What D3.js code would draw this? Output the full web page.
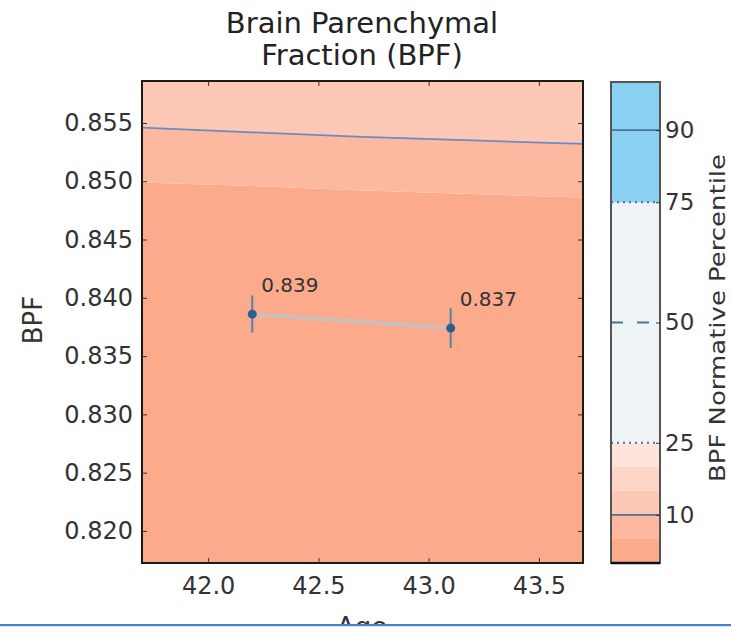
<!DOCTYPE html>
<html>
<head>
<meta charset="utf-8">
<script src="https://cdn.jsdelivr.net/npm/d3@7"></script>
<style>
  html, body { margin: 0; padding: 0; background: #fff; }
  svg { display: block; font-family: "DejaVu Sans", sans-serif; }
</style>
</head>
<body>
<svg id="chart" width="731" height="627"></svg>
<script>
// ---- data ----
const titleLines = ["Brain Parenchymal", "Fraction (BPF)"];
const xTicks = [42.0, 42.5, 43.0, 43.5];
const yTicks = [0.820, 0.825, 0.830, 0.835, 0.840, 0.845, 0.850, 0.855];
const curveAges = [41.7, 42.2, 42.7, 43.2, 43.7];
const p5Curve  = [0.8499, 0.8496, 0.8492, 0.8489, 0.8486];
const p10Curve = [0.8546, 0.8542, 0.8538, 0.8535, 0.8532];
const pointAges = [42.2, 43.1];
const pointValues = [0.8386, 0.8374];
const pointErrors = [0.0016, 0.0017];
const pointLabels = ["0.839", "0.837"];
const cbarEdges = [0, 5, 10, 15, 20, 25, 75, 90, 100];
const cbarColors = ["#fcaa8c", "#fdb99f", "#fdc8b5", "#fdd6c8", "#fee4da", "#eef3f5", "#8ad0f3", "#8ad0f3"];
const cbarTicks = [10, 25, 50, 75, 90];
const cbarLineStyles = ["solid", "dotted", "dashed", "dotted", "solid"];

// ---- layout ----
const svg = d3.select("#chart");
const x = d3.scaleLinear().domain([41.7, 43.7]).range([142, 583]);
const y = d3.scaleLinear().domain([0.81725, 0.8586]).range([563, 81]);
const cy = d3.scaleLinear().domain([0, 100]).range([563, 82]);
const cbX0 = 611, cbX1 = 660;
const textColor = "#333";

svg.append("defs").append("clipPath").attr("id", "plotclip")
  .append("rect").attr("x", 142).attr("y", 81).attr("width", 441).attr("height", 482);

const plot = svg.append("g").attr("clip-path", "url(#plotclip)");
const curveData = curveAges.map((a, i) => ({ a, p5: p5Curve[i], p10: p10Curve[i] }));
const [yMin, yMax] = y.domain();

// percentile bands
plot.append("path").datum(curveData)
  .attr("fill", cbarColors[0])
  .attr("d", d3.area().x(d => x(d.a)).y0(y(yMin)).y1(d => y(d.p5)));
plot.append("path").datum(curveData)
  .attr("fill", cbarColors[1])
  .attr("d", d3.area().x(d => x(d.a)).y0(d => y(d.p5)).y1(d => y(d.p10)));
plot.append("path").datum(curveData)
  .attr("fill", cbarColors[2])
  .attr("d", d3.area().x(d => x(d.a)).y0(d => y(d.p10)).y1(y(yMax)));

// 10th percentile line
plot.append("path").datum(curveData)
  .attr("fill", "none").attr("stroke", "#6a8cc4").attr("stroke-width", 1.8)
  .attr("d", d3.line().x(d => x(d.a)).y(d => y(d.p10)));

// subject series
const pts = pointAges.map((a, i) => ({ a, v: pointValues[i], e: pointErrors[i], l: pointLabels[i] }));
plot.append("path").datum(pts)
  .attr("fill", "none").attr("stroke", "#c6c2c0").attr("stroke-opacity", 0.85).attr("stroke-width", 4)
  .attr("d", d3.line().x(d => x(d.a)).y(d => y(d.v)));
plot.selectAll(".err").data(pts).join("line")
  .attr("x1", d => x(d.a)).attr("x2", d => x(d.a))
  .attr("y1", d => y(d.v - d.e)).attr("y2", d => y(d.v + d.e))
  .attr("stroke", "#5584aa").attr("stroke-width", 2);
plot.selectAll(".pt").data(pts).join("circle")
  .attr("cx", d => x(d.a)).attr("cy", d => y(d.v)).attr("r", 4.5)
  .attr("fill", "#2b5f8c");
plot.selectAll(".lbl").data(pts).join("text")
  .attr("x", d => x(d.a) + 9).attr("y", d => y(d.v) - 22)
  .attr("font-size", 20).attr("fill", textColor).text(d => d.l);

// frame
svg.append("rect").attr("x", 142).attr("y", 81).attr("width", 441).attr("height", 482)
  .attr("fill", "none").attr("stroke", "#1a1a1a").attr("stroke-width", 2);

// axes (inward ticks on all four sides)
const tl = 5;
svg.append("g").attr("transform", "translate(0,563)")
  .call(d3.axisBottom(x).tickValues(xTicks).tickFormat(d3.format(".1f")).tickSizeInner(-tl).tickSizeOuter(0).tickPadding(14))
  .call(g => g.select(".domain").remove())
  .call(g => g.selectAll("line").attr("stroke", "#333"))
  .call(g => g.selectAll("text").attr("font-size", 24).attr("fill", textColor).attr("font-family", "DejaVu Sans"));
svg.append("g").attr("transform", "translate(0,81)")
  .call(d3.axisTop(x).tickValues(xTicks).tickFormat("").tickSizeInner(-tl).tickSizeOuter(0))
  .call(g => g.select(".domain").remove())
  .call(g => g.selectAll("line").attr("stroke", "#333"));
svg.append("g").attr("transform", "translate(142,0)")
  .call(d3.axisLeft(y).tickValues(yTicks).tickFormat(d3.format(".3f")).tickSizeInner(-tl).tickSizeOuter(0).tickPadding(9))
  .call(g => g.select(".domain").remove())
  .call(g => g.selectAll("line").attr("stroke", "#333"))
  .call(g => g.selectAll("text").attr("font-size", 24).attr("fill", textColor).attr("font-family", "DejaVu Sans"));
svg.append("g").attr("transform", "translate(583,0)")
  .call(d3.axisRight(y).tickValues(yTicks).tickFormat("").tickSizeInner(-tl).tickSizeOuter(0))
  .call(g => g.select(".domain").remove())
  .call(g => g.selectAll("line").attr("stroke", "#333"));

// axis titles
svg.append("text").attr("transform", "translate(42,320) rotate(-90)")
  .attr("text-anchor", "middle").attr("font-size", 26).attr("fill", textColor).text("BPF");
svg.append("text").attr("x", 362).attr("y", 636)
  .attr("text-anchor", "middle").attr("font-size", 26).attr("fill", textColor).text("Age");

// title
svg.selectAll(".title").data(titleLines).join("text")
  .attr("x", 362).attr("y", (d, i) => 33 + i * 32)
  .attr("text-anchor", "middle").attr("font-size", 29).attr("fill", "#222").text(d => d);

// colorbar
const cb = svg.append("g");
const bands = cbarColors.map((c, i) => ({ lo: cbarEdges[i], hi: cbarEdges[i + 1], c }));
cb.selectAll("rect.band").data(bands).join("rect")
  .attr("x", cbX0).attr("width", cbX1 - cbX0)
  .attr("y", d => cy(d.hi)).attr("height", d => cy(d.lo) - cy(d.hi))
  .attr("fill", d => d.c);
const dash = { solid: null, dotted: "2,4", dashed: "12,14" };
cb.selectAll("line.pl").data(cbarTicks).join("line")
  .attr("x1", cbX0).attr("x2", cbX1)
  .attr("y1", d => cy(d)).attr("y2", d => cy(d))
  .attr("stroke", "#4c7294").attr("stroke-width", 1.8)
  .attr("stroke-dasharray", (d, i) => dash[cbarLineStyles[i]]);
cb.append("rect").attr("x", cbX0).attr("y", 82).attr("width", cbX1 - cbX0).attr("height", 481)
  .attr("fill", "none").attr("stroke", "#555").attr("stroke-width", 2);
cb.append("line").attr("x1", cbX0).attr("x2", cbX1).attr("y1", 563).attr("y2", 563)
  .attr("stroke", "#111").attr("stroke-width", 2.5);
svg.append("g").attr("transform", `translate(${cbX1},0)`)
  .call(d3.axisRight(cy).tickValues(cbarTicks).tickFormat(d3.format("d")).tickSizeInner(-4).tickSizeOuter(0).tickPadding(5))
  .call(g => g.select(".domain").remove())
  .call(g => g.selectAll("line").attr("stroke", "#333"))
  .call(g => g.selectAll("text").attr("font-size", 23).attr("fill", textColor).attr("font-family", "DejaVu Sans"));
svg.append("text").attr("transform", "translate(725,318) rotate(-90)")
  .attr("text-anchor", "middle").attr("font-size", 21)
  .attr("textLength", 328).attr("lengthAdjust", "spacingAndGlyphs")
  .attr("fill", textColor).text("BPF Normative Percentile");

// cropped bottom edge of the screenshot
svg.append("rect").attr("x", 0).attr("y", 626).attr("width", 731).attr("height", 2).attr("fill", "#fff");
svg.append("rect").attr("x", 0).attr("y", 624).attr("width", 731).attr("height", 2.2).attr("fill", "#4a80c8");
</script>
</body>
</html>
